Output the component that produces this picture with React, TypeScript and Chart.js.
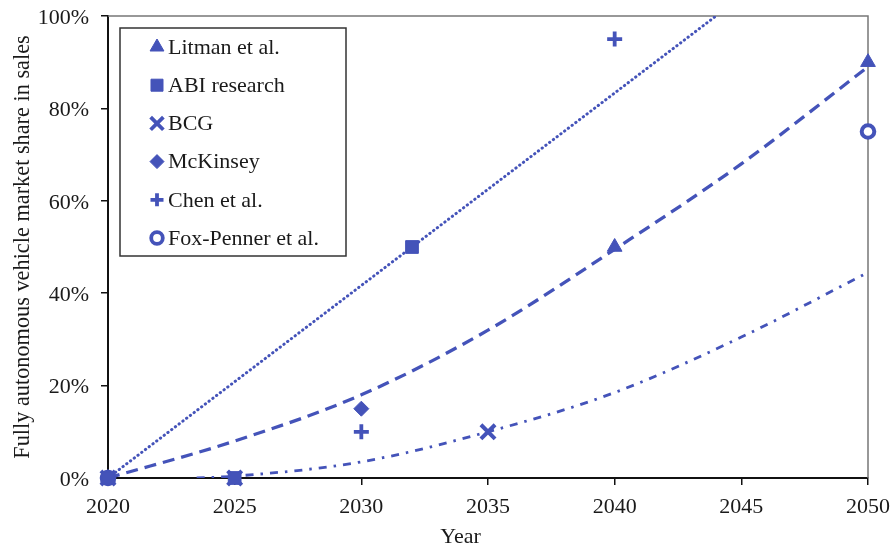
import React, { useEffect, useRef } from "react";
import { Chart, registerables } from "chart.js";
import { drawPoint } from "chart.js/helpers";

Chart.register(...registerables);

const BLUE = "#4453B9";
const FONT = "'Liberation Serif', 'DejaVu Serif', serif";

const xTicks = [2020, 2025, 2030, 2035, 2040, 2045, 2050];
const yTicks = [0, 20, 40, 60, 80, 100];

const seriesNames = ["Litman et al.", "ABI research", "BCG", "McKinsey", "Chen et al.", "Fox-Penner et al."];
const seriesStyles = ["triangle", "rect", "crossRot", "rectRot", "cross", "circle"];

const litmanYears = [2020, 2040, 2050];
const litmanValues = [0, 50, 90];
const abiYears = [2020, 2025, 2032];
const abiValues = [0, 0, 50];
const bcgYears = [2020, 2025, 2035];
const bcgValues = [0, 0, 10];
const mckinseyYears = [2020, 2030];
const mckinseyValues = [0, 15];
const chenYears = [2020, 2030, 2040];
const chenValues = [0, 10, 95];
const foxYears = [2020, 2050];
const foxValues = [0, 75];

// trend lines
const dottedYears = [2020, 2032, 2044];
const dottedValues = [0, 50, 100];
const dashedYears = [2020, 2025, 2030, 2035, 2040, 2045, 2050];
const dashedValues = [0, 8, 18, 32, 49.5, 68, 89];
const dashDotYears = [2023.5, 2025, 2030, 2035, 2040, 2045, 2050];
const dashDotValues = [0, 0.4, 3.5, 10, 18.5, 30.5, 44.5];

const zip = (xs: number[], ys: number[]) => xs.map((x, i) => ({ x, y: ys[i] }));

const markerOpts: any[] = [
  { pointStyle: "triangle", radius: 8.5, borderWidth: 1, fill: BLUE },
  { pointStyle: "rect", radius: 9, borderWidth: 1, fill: BLUE },
  { pointStyle: "crossRot", radius: 10, borderWidth: 4, fill: BLUE },
  { pointStyle: "rectRot", radius: 7.5, borderWidth: 1, fill: BLUE },
  { pointStyle: "cross", radius: 7.5, borderWidth: 3.8, fill: BLUE },
  { pointStyle: "circle", radius: 6.3, borderWidth: 4, fill: "#ffffff" },
];

const legendMarker: any[] = [
  { pointStyle: "triangle", radius: 8, borderWidth: 1, fill: BLUE },
  { pointStyle: "rect", radius: 8.5, borderWidth: 1, fill: BLUE },
  { pointStyle: "crossRot", radius: 9, borderWidth: 3.8, fill: BLUE },
  { pointStyle: "rectRot", radius: 7, borderWidth: 1, fill: BLUE },
  { pointStyle: "cross", radius: 6.5, borderWidth: 3.8, fill: BLUE },
  { pointStyle: "circle", radius: 5.8, borderWidth: 3.8, fill: "#ffffff" },
];

const framePlugin = {
  id: "frame",
  beforeDatasetsDraw(chart: any) {
    const { ctx, chartArea } = chart;
    ctx.save();
    ctx.strokeStyle = "#777";
    ctx.lineWidth = 1.5;
    ctx.beginPath();
    ctx.moveTo(chartArea.left, chartArea.top);
    ctx.lineTo(chartArea.right, chartArea.top);
    ctx.lineTo(chartArea.right, chartArea.bottom);
    ctx.stroke();
    ctx.restore();
  },
  afterDraw(chart: any) {
    const { ctx, chartArea } = chart;
    ctx.save();
    // x axis title
    ctx.font = `22px ${FONT}`;
    ctx.fillStyle = "#1a1a1a";
    ctx.textAlign = "center";
    ctx.textBaseline = "middle";
    const w = chartArea.right - chartArea.left;
    ctx.fillText("Year", chartArea.left + w * 0.464, 537);

    // legend box
    const lx = chartArea.left + 12;
    const ly = chartArea.top + 12;
    const lw = 226;
    const lh = 228;
    ctx.fillStyle = "#fff";
    ctx.fillRect(lx, ly, lw, lh);
    ctx.strokeStyle = "#333";
    ctx.lineWidth = 1.5;
    ctx.strokeRect(lx, ly, lw, lh);
    ctx.font = `22px ${FONT}`;
    ctx.textAlign = "left";
    ctx.textBaseline = "middle";
    seriesNames.forEach((name, i) => {
      const cy = ly + 19 + i * 38.2;
      const m = legendMarker[i];
      ctx.fillStyle = m.fill;
      ctx.strokeStyle = BLUE;
      ctx.lineWidth = m.borderWidth;
      drawPoint(ctx, { pointStyle: m.pointStyle, radius: m.radius, rotation: 0, borderWidth: m.borderWidth }, lx + 37, cy);
      ctx.fillStyle = "#1a1a1a";
      ctx.fillText(name, lx + 48, cy + 1);
    });
    ctx.restore();
  },
};

export default function App() {
  const ref = useRef<HTMLCanvasElement | null>(null);

  useEffect(() => {
    document.body.style.margin = "0";
    const canvas = ref.current;
    if (!canvas) return;

    const markerSets = [
      zip(litmanYears, litmanValues),
      zip(abiYears, abiValues),
      zip(bcgYears, bcgValues),
      zip(mckinseyYears, mckinseyValues),
      zip(chenYears, chenValues),
      zip(foxYears, foxValues),
    ];

    const markerDatasets = markerSets.map((data, i) => ({
      label: seriesNames[i],
      data,
      showLine: false,
      pointStyle: seriesStyles[i],
      pointRadius: markerOpts[i].radius,
      pointBorderWidth: markerOpts[i].borderWidth,
      pointBackgroundColor: markerOpts[i].fill,
      pointBorderColor: BLUE,
      clip: false as any,
      order: i === 1 ? 0 : 1,
    }));

    const lineBase = {
      showLine: true,
      pointRadius: 0,
      borderColor: BLUE,
      fill: false,
      cubicInterpolationMode: "monotone" as const,
      order: 5,
    };

    const lineDatasets = [
      { ...lineBase, label: "trend dotted", data: zip(dottedYears, dottedValues), borderWidth: 3, borderDash: [0.3, 4.4], borderCapStyle: "round" as const },
      { ...lineBase, label: "trend dashed", data: zip(dashedYears, dashedValues), borderWidth: 3.3, borderDash: [12, 7] },
      { ...lineBase, label: "trend dashdot", data: zip(dashDotYears, dashDotValues), borderWidth: 2.8, borderDash: [8, 7, 2.5, 7] },
    ];

    const noPad = (s: any) => {
      s.paddingTop = 0;
      s.paddingBottom = 0;
      s.paddingLeft = 0;
      s.paddingRight = 0;
    };

    const chart = new Chart(canvas, {
      type: "scatter",
      data: { datasets: [...markerDatasets, ...lineDatasets] as any },
      options: {
        responsive: false,
        animation: false,
        layout: { padding: { top: 16, right: 27, left: 0, bottom: 0 } },
        plugins: {
          legend: { display: false },
          tooltip: { enabled: false },
        },
        scales: {
          x: {
            type: "linear",
            min: 2020,
            max: 2050,
            afterFit: (s: any) => { s.height = 71; noPad(s); },
            afterBuildTicks: (s: any) => { s.ticks = xTicks.map((v) => ({ value: v })); },
            grid: { display: true, drawOnChartArea: false, drawTicks: true, tickLength: 7, color: "#111", lineWidth: 1.5 },
            border: { display: true, color: "#111", width: 2 },
            ticks: {
              color: "#1a1a1a",
              padding: 9,
              font: { family: FONT, size: 22 },
              maxRotation: 0,
              callback: (v: any) => String(v),
            },
            title: { display: false },
          },
          y: {
            type: "linear",
            min: 0,
            max: 100,
            afterFit: (s: any) => { s.width = 108; noPad(s); },
            afterBuildTicks: (s: any) => { s.ticks = yTicks.map((v) => ({ value: v })); },
            grid: { display: true, drawOnChartArea: false, drawTicks: true, tickLength: 7, color: "#111", lineWidth: 1.5 },
            border: { display: true, color: "#111", width: 2 },
            ticks: {
              color: "#1a1a1a",
              padding: 12,
              labelOffset: 2,
              font: { family: FONT, size: 22 },
              callback: (v: any) => v + "%",
            },
            title: {
              display: true,
              text: "Fully autonomous vehicle market share in sales",
              color: "#1a1a1a",
              font: { family: FONT, size: 22.3 },
              padding: { top: 10, bottom: 0 },
            },
          },
        },
      },
      plugins: [framePlugin],
    });

    return () => chart.destroy();
  }, []);

  return <canvas ref={ref} width={895} height={549} style={{ display: "block" }} />;
}
